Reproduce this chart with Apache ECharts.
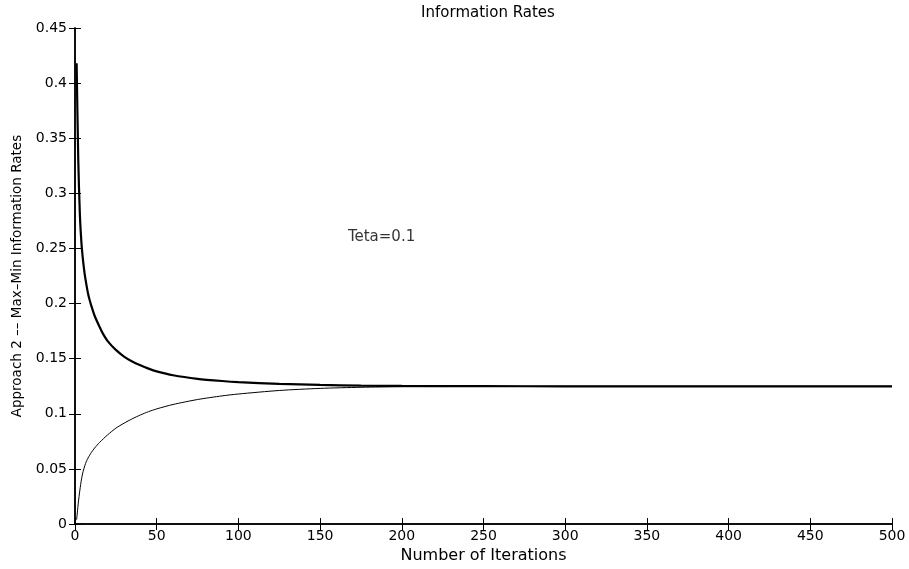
<!DOCTYPE html>
<html>
<head>
<meta charset="utf-8">
<script src="https://cdn.jsdelivr.net/npm/echarts@6/dist/echarts.min.js"></script>
<style>
  html, body { margin: 0; padding: 0; background: #fff; }
  #chart { width: 909px; height: 569px; }
</style>
</head>
<body>
<div id="chart"></div>
<script>
// Iteration numbers at which the rates are sampled
const iterMax = [1, 2, 3, 4, 5, 6, 7, 8, 9, 10, 12, 15, 17, 20, 25, 30, 35, 40, 45, 50, 60, 75, 90, 100, 125, 150, 175, 200, 250, 300, 400, 500];
// Max information rate per iteration (thick curve)
const maxRate = [0.418, 0.330, 0.280, 0.254, 0.238, 0.226, 0.217, 0.209, 0.203, 0.198, 0.189, 0.179, 0.173, 0.166, 0.158, 0.152, 0.1475, 0.144, 0.141, 0.1385, 0.135, 0.1318, 0.1298, 0.1288, 0.1272, 0.1262, 0.1256, 0.1253, 0.1251, 0.125, 0.125, 0.125];

const iterMin = [1, 2, 3, 4, 5, 6, 7, 8, 10, 12, 15, 20, 25, 30, 35, 40, 45, 50, 60, 75, 90, 100, 125, 150, 175, 200, 250, 300, 400, 500];
// Min information rate per iteration (thin curve)
const minRate = [0.004, 0.019, 0.031, 0.041, 0.048, 0.053, 0.057, 0.060, 0.065, 0.069, 0.074, 0.081, 0.087, 0.0915, 0.0955, 0.099, 0.102, 0.1045, 0.1085, 0.113, 0.1163, 0.118, 0.1212, 0.1231, 0.1241, 0.1246, 0.1249, 0.125, 0.125, 0.125];

// Axis ranges and tick steps
const xTicks = { min: 0, max: 500, step: 50 };
const yTicks = { min: 0, max: 0.45, step: 0.05 };

// Annotation
const tetaText = 'Teta=0.1';
const tetaAt = [167, 0.2606];

const FONT = 'DejaVu Sans';
const zip = (xs, ys) => xs.map((x, i) => [x, ys[i]]);

const chart = echarts.init(document.getElementById('chart'), null, { renderer: 'canvas' });

const frameLine = { show: true, lineStyle: { color: '#000', width: 1.5 } };
const innerTick = { show: true, inside: true, length: 6, lineStyle: { color: '#000', width: 1 } };

chart.setOption({
  backgroundColor: '#fff',
  animation: false,
  title: {
    text: 'Information Rates',
    left: 483,
    top: 1,
    textAlign: 'center',
    textStyle: { fontFamily: FONT, fontSize: 15, fontWeight: 'normal', color: '#000' }
  },
  grid: { left: 75, right: 17, top: 28, bottom: 42, containLabel: false },
  xAxis: [
    {
      type: 'value', min: xTicks.min, max: xTicks.max, interval: xTicks.step,
      name: 'Number of Iterations', nameLocation: 'middle', nameGap: 20,
      nameTextStyle: { fontFamily: FONT, fontSize: 16, color: '#000' },
      axisLine: frameLine, axisTick: innerTick,
      axisLabel: { margin: 5, fontFamily: FONT, fontSize: 14, color: '#000' },
      splitLine: { show: false }
    },
    {
      type: 'value', position: 'top', min: xTicks.min, max: xTicks.max, interval: xTicks.step,
      axisLine: frameLine, axisTick: innerTick,
      axisLabel: { show: false }, splitLine: { show: false }
    }
  ],
  yAxis: [
    {
      type: 'value', min: yTicks.min, max: yTicks.max, interval: yTicks.step,
      name: 'Approach 2 –– Max–Min Information Rates', nameLocation: 'middle', nameGap: 48,
      nameTextStyle: { fontFamily: FONT, fontSize: 13.5, color: '#000' },
      axisLine: frameLine, axisTick: innerTick,
      axisLabel: {
        margin: 8, fontFamily: FONT, fontSize: 14, color: '#000',
        formatter: v => String(Math.round(v * 100) / 100)
      },
      splitLine: { show: false }
    },
    {
      type: 'value', position: 'right', min: yTicks.min, max: yTicks.max, interval: yTicks.step,
      axisLine: frameLine, axisTick: innerTick,
      axisLabel: { show: false }, splitLine: { show: false }
    }
  ],
  series: [
    {
      name: 'max', type: 'line', data: zip(iterMax, maxRate),
      showSymbol: false, symbol: 'none', smooth: 0.25,
      lineStyle: { color: '#000', width: 2.2 }
    },
    {
      name: 'min', type: 'line', data: zip(iterMin, minRate),
      showSymbol: false, symbol: 'none', smooth: 0.25,
      lineStyle: { color: '#000', width: 1 }
    },
    {
      name: 'teta', type: 'scatter', data: [tetaAt], symbolSize: 0, silent: true,
      label: {
        show: true, position: 'right', distance: 0, formatter: tetaText,
        fontFamily: FONT, fontSize: 15, color: '#000'
      }
    }
  ]
});
</script>
</body>
</html>
